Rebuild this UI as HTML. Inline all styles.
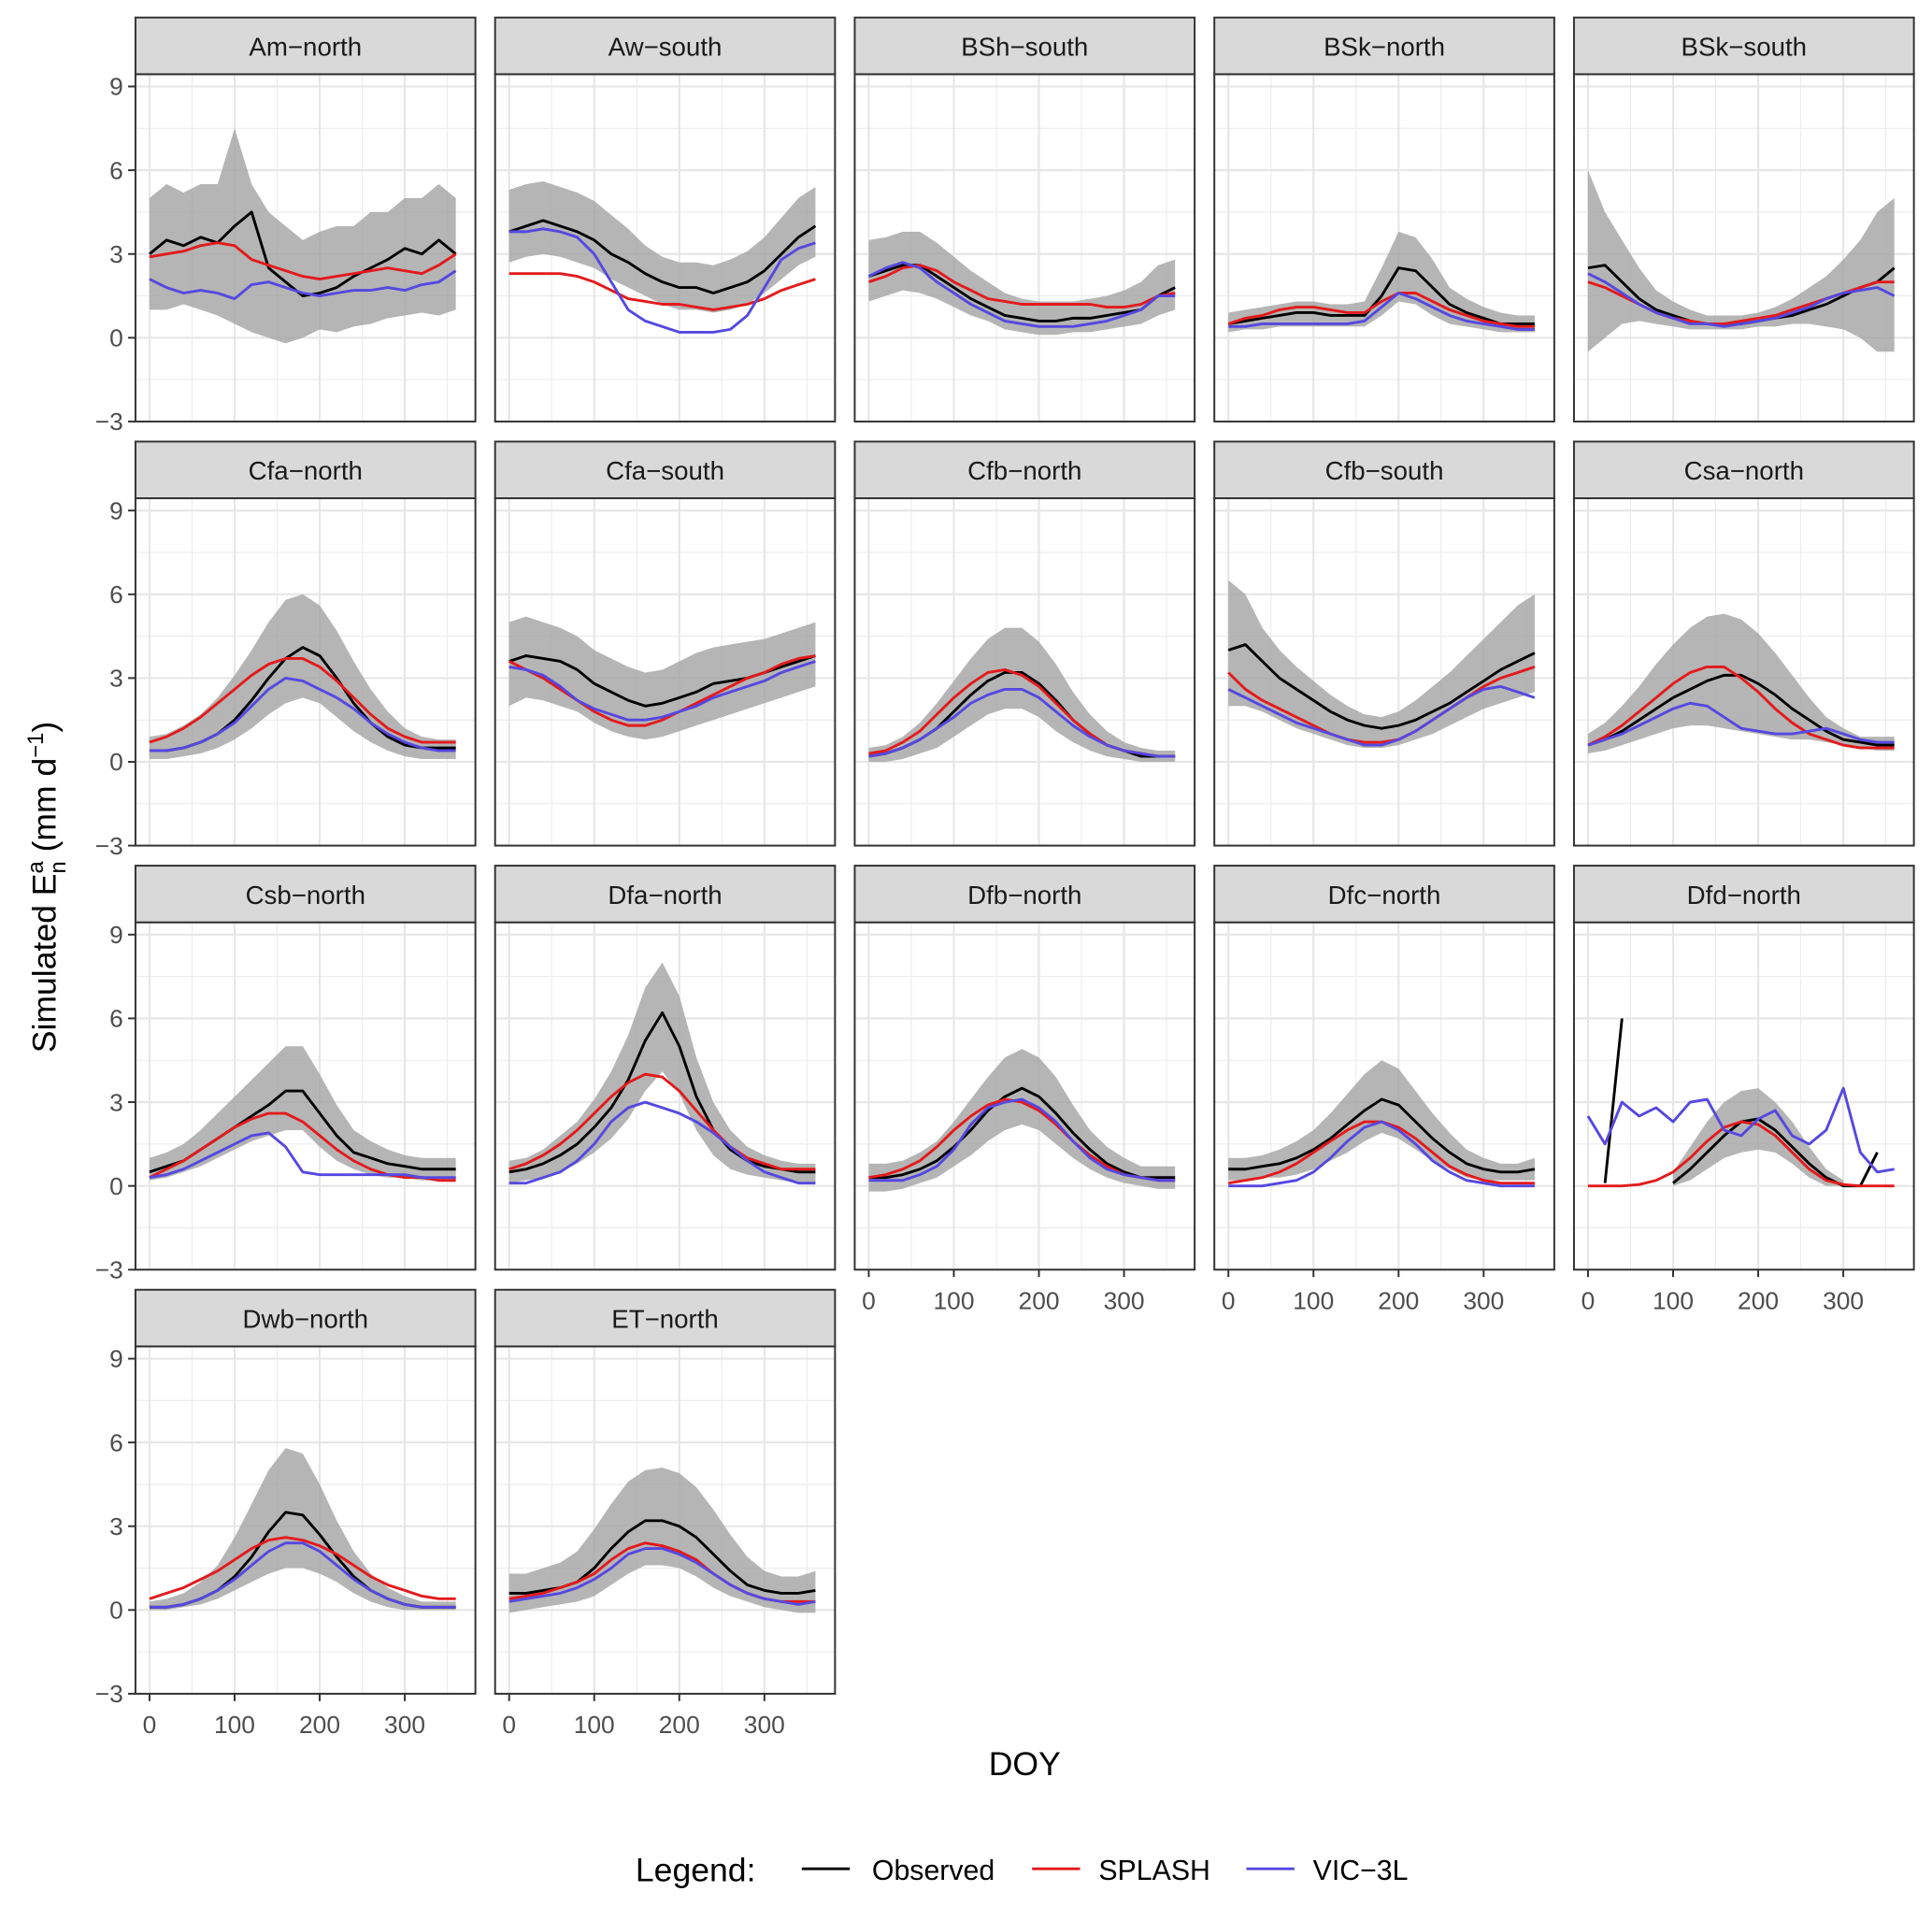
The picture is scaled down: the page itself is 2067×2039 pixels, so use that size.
<!DOCTYPE html>
<html><head><meta charset="utf-8">
<style>
html,body{margin:0;padding:0;background:#fff;}
svg{display:block;font-family:"Liberation Sans",sans-serif;}
</style></head>
<body>
<svg id="chart" width="2067" height="2039" viewBox="0 0 1568.7 1547" xmlns="http://www.w3.org/2000/svg"></svg>
<script>
const panelNames=["Am\u2212north","Aw\u2212south","BSh\u2212south","BSk\u2212north","BSk\u2212south","Cfa\u2212north","Cfa\u2212south","Cfb\u2212north","Cfb\u2212south","Csa\u2212north","Csb\u2212north","Dfa\u2212north","Dfb\u2212north","Dfc\u2212north","Dfd\u2212north","Dwb\u2212north","ET\u2212north"];
const doy=[0,20,40,60,80,100,120,140,160,180,200,220,240,260,280,300,320,340,360];
const xTicks=[0,100,200,300];
const yTicks=[-3,0,3,6,9];
const obsData=[
[3.0,3.5,3.3,3.6,3.4,4.0,4.5,2.5,2.0,1.5,1.6,1.8,2.2,2.5,2.8,3.2,3.0,3.5,3.0],
[3.8,4.0,4.2,4.0,3.8,3.5,3.0,2.7,2.3,2.0,1.8,1.8,1.6,1.8,2.0,2.4,3.0,3.6,4.0],
[2.2,2.4,2.6,2.6,2.2,1.8,1.4,1.1,0.8,0.7,0.6,0.6,0.7,0.7,0.8,0.9,1.0,1.5,1.8],
[0.5,0.6,0.7,0.8,0.9,0.9,0.8,0.8,0.8,1.5,2.5,2.4,1.8,1.2,0.9,0.7,0.5,0.5,0.5],
[2.5,2.6,2.0,1.4,1.0,0.8,0.6,0.5,0.5,0.5,0.6,0.7,0.8,1.0,1.2,1.5,1.8,2.0,2.5],
[0.4,0.4,0.5,0.7,1.0,1.5,2.2,3.0,3.7,4.1,3.8,3.0,2.1,1.4,0.9,0.6,0.5,0.5,0.5],
[3.6,3.8,3.7,3.6,3.3,2.8,2.5,2.2,2.0,2.1,2.3,2.5,2.8,2.9,3.0,3.2,3.4,3.6,3.8],
[0.2,0.3,0.5,0.8,1.2,1.8,2.4,2.9,3.2,3.2,2.8,2.2,1.5,1.0,0.6,0.4,0.2,0.2,0.2],
[4.0,4.2,3.6,3.0,2.6,2.2,1.8,1.5,1.3,1.2,1.3,1.5,1.8,2.1,2.5,2.9,3.3,3.6,3.9],
[0.6,0.8,1.1,1.5,1.9,2.3,2.6,2.9,3.1,3.1,2.8,2.4,1.9,1.5,1.1,0.8,0.7,0.6,0.6],
[0.5,0.7,0.9,1.3,1.7,2.1,2.5,2.9,3.4,3.4,2.6,1.8,1.2,1.0,0.8,0.7,0.6,0.6,0.6],
[0.5,0.6,0.8,1.1,1.5,2.1,2.8,3.8,5.2,6.2,5.0,3.2,2.0,1.3,0.9,0.7,0.6,0.5,0.5],
[0.3,0.3,0.4,0.6,0.9,1.4,2.0,2.7,3.2,3.5,3.2,2.6,1.9,1.3,0.8,0.5,0.3,0.3,0.3],
[0.6,0.6,0.7,0.8,1.0,1.3,1.7,2.2,2.7,3.1,2.9,2.3,1.7,1.2,0.8,0.6,0.5,0.5,0.6],
[null,0.1,6.0,null,null,0.1,0.6,1.2,1.8,2.3,2.4,2.0,1.4,0.8,0.3,0.0,0.0,1.2,null],
[0.1,0.1,0.2,0.4,0.7,1.2,1.9,2.8,3.5,3.4,2.7,1.9,1.2,0.7,0.4,0.2,0.1,0.1,0.1],
[0.6,0.6,0.7,0.8,1.0,1.5,2.2,2.8,3.2,3.2,3.0,2.6,2.0,1.4,0.9,0.7,0.6,0.6,0.7]];
const splData=[
[2.9,3.0,3.1,3.3,3.4,3.3,2.8,2.6,2.4,2.2,2.1,2.2,2.3,2.4,2.5,2.4,2.3,2.6,3.0],
[2.3,2.3,2.3,2.3,2.2,2.0,1.7,1.4,1.3,1.2,1.2,1.1,1.0,1.1,1.2,1.4,1.7,1.9,2.1],
[2.0,2.2,2.5,2.6,2.4,2.0,1.7,1.4,1.3,1.2,1.2,1.2,1.2,1.2,1.1,1.1,1.2,1.5,1.6],
[0.5,0.7,0.8,1.0,1.1,1.1,1.0,0.9,0.9,1.3,1.6,1.6,1.3,1.0,0.8,0.6,0.5,0.4,0.4],
[2.0,1.8,1.5,1.2,0.9,0.7,0.6,0.5,0.5,0.6,0.7,0.8,1.0,1.2,1.4,1.6,1.8,2.0,2.0],
[0.7,0.9,1.2,1.6,2.1,2.6,3.1,3.5,3.7,3.7,3.4,2.9,2.3,1.7,1.2,0.9,0.7,0.7,0.7],
[3.6,3.3,3.0,2.6,2.2,1.8,1.5,1.3,1.3,1.5,1.8,2.1,2.4,2.7,3.0,3.2,3.5,3.7,3.8],
[0.3,0.4,0.7,1.1,1.7,2.3,2.8,3.2,3.3,3.1,2.7,2.1,1.5,1.0,0.6,0.4,0.3,0.2,0.2],
[3.2,2.6,2.2,1.9,1.6,1.3,1.0,0.8,0.7,0.7,0.8,1.1,1.5,1.9,2.3,2.7,3.0,3.2,3.4],
[0.6,0.9,1.3,1.8,2.3,2.8,3.2,3.4,3.4,3.0,2.5,1.9,1.4,1.0,0.8,0.6,0.5,0.5,0.5],
[0.3,0.6,0.9,1.3,1.7,2.1,2.4,2.6,2.6,2.3,1.8,1.3,0.9,0.6,0.4,0.3,0.3,0.2,0.2],
[0.6,0.8,1.1,1.5,2.0,2.6,3.2,3.7,4.0,3.9,3.4,2.7,2.0,1.4,1.0,0.8,0.6,0.6,0.6],
[0.3,0.4,0.6,0.9,1.4,2.0,2.5,2.9,3.1,3.0,2.7,2.2,1.6,1.1,0.7,0.4,0.3,0.2,0.2],
[0.1,0.2,0.3,0.5,0.8,1.2,1.6,2.0,2.3,2.3,2.1,1.7,1.2,0.7,0.4,0.2,0.1,0.1,0.1],
[0,0,0,0.05,0.2,0.5,1.0,1.6,2.1,2.3,2.2,1.8,1.2,0.6,0.2,0.05,0,0,0],
[0.4,0.6,0.8,1.1,1.4,1.8,2.2,2.5,2.6,2.5,2.3,2.0,1.6,1.2,0.9,0.7,0.5,0.4,0.4],
[0.4,0.5,0.6,0.8,1.0,1.3,1.8,2.2,2.4,2.3,2.1,1.8,1.3,0.9,0.6,0.4,0.3,0.3,0.3]];
const vicData=[
[2.1,1.8,1.6,1.7,1.6,1.4,1.9,2.0,1.8,1.6,1.5,1.6,1.7,1.7,1.8,1.7,1.9,2.0,2.4],
[3.8,3.8,3.9,3.8,3.6,3.0,2.0,1.0,0.6,0.4,0.2,0.2,0.2,0.3,0.8,1.8,2.8,3.2,3.4],
[2.2,2.5,2.7,2.5,2.0,1.6,1.2,0.9,0.6,0.5,0.4,0.4,0.4,0.5,0.6,0.8,1.0,1.5,1.5],
[0.4,0.4,0.5,0.5,0.5,0.5,0.5,0.5,0.6,1.1,1.6,1.4,1.1,0.8,0.6,0.5,0.4,0.3,0.3],
[2.3,2.0,1.6,1.2,0.9,0.7,0.5,0.5,0.4,0.5,0.6,0.7,0.9,1.1,1.4,1.6,1.7,1.8,1.5],
[0.4,0.4,0.5,0.7,1.0,1.4,2.0,2.6,3.0,2.9,2.6,2.3,1.9,1.4,1.0,0.7,0.5,0.4,0.4],
[3.4,3.3,3.1,2.7,2.2,1.9,1.7,1.5,1.5,1.6,1.8,2.0,2.3,2.5,2.7,2.9,3.2,3.4,3.6],
[0.2,0.3,0.5,0.8,1.2,1.6,2.1,2.4,2.6,2.6,2.3,1.8,1.3,0.9,0.6,0.4,0.3,0.2,0.2],
[2.6,2.3,2.0,1.7,1.4,1.2,1.0,0.8,0.6,0.6,0.8,1.1,1.5,1.9,2.3,2.6,2.7,2.5,2.3],
[0.6,0.8,1.0,1.3,1.6,1.9,2.1,2.0,1.6,1.2,1.1,1.0,1.0,1.1,1.2,1.0,0.8,0.7,0.7],
[0.3,0.4,0.6,0.9,1.2,1.5,1.8,1.9,1.4,0.5,0.4,0.4,0.4,0.4,0.4,0.4,0.3,0.3,0.3],
[0.1,0.1,0.3,0.5,0.9,1.5,2.3,2.8,3.0,2.8,2.6,2.3,1.9,1.4,0.9,0.5,0.3,0.1,0.1],
[0.2,0.2,0.2,0.4,0.7,1.3,2.2,2.8,3.0,3.1,2.8,2.3,1.6,1.0,0.6,0.4,0.3,0.2,0.2],
[0.0,0.0,0.0,0.1,0.2,0.5,1.0,1.6,2.1,2.3,2.0,1.5,0.9,0.5,0.2,0.1,0.0,0.0,0.0],
[2.5,1.5,3.0,2.5,2.8,2.3,3.0,3.1,2.0,1.8,2.4,2.7,1.8,1.5,2.0,3.5,1.2,0.5,0.6],
[0.1,0.1,0.2,0.4,0.7,1.1,1.6,2.1,2.4,2.4,2.1,1.6,1.1,0.7,0.4,0.2,0.1,0.1,0.1],
[0.3,0.4,0.5,0.6,0.8,1.1,1.5,2.0,2.2,2.2,2.0,1.7,1.3,0.9,0.6,0.4,0.3,0.2,0.3]];
const loData=[
[1.0,1.0,1.2,1.0,0.8,0.5,0.2,0.0,-0.2,0.0,0.3,0.2,0.4,0.5,0.7,0.8,0.9,0.8,1.0],
[2.7,2.9,3.0,2.9,2.7,2.5,2.1,1.8,1.5,1.2,1.0,1.0,0.9,1.0,1.2,1.6,2.1,2.6,2.9],
[1.3,1.5,1.7,1.6,1.4,1.1,0.8,0.6,0.3,0.2,0.1,0.1,0.2,0.2,0.3,0.4,0.5,0.8,1.0],
[0.2,0.3,0.3,0.4,0.4,0.4,0.4,0.4,0.4,0.8,1.3,1.2,0.8,0.5,0.4,0.3,0.2,0.2,0.2],
[-0.5,0.0,0.5,0.6,0.5,0.4,0.3,0.3,0.3,0.3,0.4,0.4,0.5,0.5,0.4,0.3,0.0,-0.5,-0.5],
[0.1,0.1,0.2,0.3,0.5,0.8,1.2,1.7,2.1,2.3,2.1,1.6,1.1,0.7,0.4,0.2,0.1,0.1,0.1],
[2.0,2.3,2.2,2.0,1.8,1.4,1.1,0.9,0.8,0.9,1.1,1.3,1.5,1.7,1.9,2.1,2.3,2.5,2.7],
[0.0,0.0,0.1,0.3,0.5,0.9,1.3,1.7,1.9,1.9,1.6,1.1,0.7,0.4,0.2,0.1,0.0,0.0,0.0],
[2.0,2.0,1.8,1.5,1.2,1.0,0.8,0.6,0.5,0.5,0.6,0.8,1.0,1.3,1.6,1.9,2.1,2.3,2.5],
[0.3,0.4,0.6,0.8,1.0,1.2,1.3,1.3,1.2,1.1,1.0,0.9,0.8,0.8,0.7,0.6,0.5,0.4,0.4],
[0.2,0.3,0.5,0.7,1.0,1.3,1.6,1.8,2.0,2.0,1.4,0.9,0.6,0.4,0.3,0.3,0.2,0.2,0.2],
[0.1,0.2,0.3,0.5,0.8,1.2,1.7,2.4,3.4,4.1,3.3,2.0,1.1,0.6,0.4,0.3,0.2,0.1,0.1],
[-0.2,-0.2,-0.1,0.1,0.3,0.7,1.1,1.6,2.0,2.2,2.0,1.5,1.0,0.6,0.3,0.1,0.0,-0.1,-0.1],
[0.2,0.2,0.3,0.3,0.4,0.6,0.9,1.2,1.6,1.9,1.7,1.3,0.9,0.6,0.3,0.2,0.2,0.2,0.2],
[null,null,null,null,null,0.0,0.2,0.6,1.0,1.2,1.3,1.2,0.8,0.3,0.0,0.0,null,null,null],
[0.0,0.0,0.1,0.2,0.4,0.7,1.0,1.3,1.5,1.5,1.3,1.0,0.6,0.3,0.1,0.0,0.0,0.0,0.0],
[-0.1,0.0,0.1,0.2,0.3,0.5,0.9,1.3,1.6,1.6,1.5,1.2,0.8,0.5,0.3,0.1,0.0,-0.1,-0.1]];
const hiData=[
[5.0,5.5,5.2,5.5,5.5,7.5,5.5,4.5,4.0,3.5,3.8,4.0,4.0,4.5,4.5,5.0,5.0,5.5,5.0],
[5.3,5.5,5.6,5.4,5.2,4.9,4.4,3.9,3.3,2.9,2.7,2.7,2.6,2.8,3.1,3.6,4.3,5.0,5.4],
[3.5,3.6,3.8,3.8,3.4,2.9,2.4,2.0,1.6,1.4,1.3,1.3,1.3,1.4,1.5,1.7,2.0,2.6,2.8],
[0.9,1.0,1.1,1.2,1.3,1.3,1.2,1.2,1.3,2.5,3.8,3.6,2.8,1.8,1.4,1.1,0.9,0.8,0.8],
[6.0,4.5,3.5,2.5,1.7,1.3,1.0,0.8,0.8,0.8,0.9,1.1,1.4,1.8,2.2,2.8,3.5,4.5,5.0],
[0.9,1.0,1.3,1.7,2.3,3.1,4.0,5.0,5.8,6.0,5.6,4.7,3.6,2.6,1.8,1.2,0.9,0.8,0.8],
[5.0,5.2,5.0,4.8,4.5,4.0,3.7,3.4,3.2,3.3,3.6,3.9,4.1,4.2,4.3,4.4,4.6,4.8,5.0],
[0.5,0.6,0.9,1.4,2.1,2.9,3.7,4.4,4.8,4.8,4.3,3.5,2.5,1.7,1.1,0.7,0.5,0.4,0.4],
[6.5,6.0,4.8,4.0,3.4,2.9,2.4,2.0,1.7,1.6,1.8,2.2,2.7,3.2,3.8,4.4,5.0,5.6,6.0],
[1.0,1.4,2.0,2.7,3.5,4.2,4.8,5.2,5.3,5.1,4.6,3.9,3.1,2.3,1.6,1.2,0.9,0.9,0.9],
[1.0,1.2,1.5,2.0,2.6,3.2,3.8,4.4,5.0,5.0,4.0,2.9,2.0,1.6,1.3,1.1,1.0,1.0,1.0],
[0.9,1.0,1.3,1.8,2.3,3.1,4.1,5.4,7.1,8.0,6.8,4.6,3.0,2.0,1.4,1.1,0.9,0.8,0.8],
[0.8,0.8,0.9,1.2,1.6,2.3,3.1,3.9,4.6,4.9,4.6,3.9,2.9,2.0,1.4,1.0,0.7,0.7,0.7],
[1.0,1.0,1.1,1.3,1.6,2.0,2.6,3.3,4.0,4.5,4.2,3.4,2.6,1.9,1.3,1.0,0.8,0.8,1.0],
[null,null,null,null,null,0.5,1.4,2.3,3.0,3.4,3.5,3.0,2.3,1.4,0.6,0.2,null,null,null],
[0.3,0.4,0.6,1.0,1.6,2.6,3.8,5.0,5.8,5.6,4.5,3.2,2.1,1.3,0.8,0.5,0.3,0.3,0.3],
[1.3,1.3,1.5,1.7,2.1,2.9,3.8,4.6,5.0,5.1,4.9,4.4,3.6,2.7,1.9,1.4,1.2,1.2,1.4]];

const NS="http://www.w3.org/2000/svg";
const svg=document.getElementById('chart');
function mk(tag,attrs,parent){const e=document.createElementNS(NS,tag);for(const k in attrs)e.setAttribute(k,attrs[k]);(parent||svg).appendChild(e);return e;}
const PW=276, STRIP=46, PH=282, X_DOMAIN=[-16.5,383], Y_DOMAIN=[-3,9.44];
const axisBottomPanels=[12,13,14,15,16];
function lineD(xs,ys,xf,yf){let d='',pen=false;for(let i=0;i<xs.length;i++){if(ys[i]===null){pen=false;continue;}d+=(pen?'L':'M')+xf(xs[i]).toFixed(1)+','+yf(ys[i]).toFixed(1);pen=true;}return d;}
panelNames.forEach((name,p)=>{
  const col=p%5,row=Math.floor(p/5);
  const left=110+col*292, top=14+row*344.3, pTop=top+STRIP, pBot=pTop+PH;
  const xf=v=>left+(v-X_DOMAIN[0])/(X_DOMAIN[1]-X_DOMAIN[0])*PW;
  const yf=v=>pBot-(v-Y_DOMAIN[0])/(Y_DOMAIN[1]-Y_DOMAIN[0])*PH;
  const g=mk('g',{});
  
  
  mk('rect',{x:left,y:pTop,width:PW,height:PH,fill:'#fff'},g);
  [-1.5,1.5,4.5,7.5].forEach(v=>mk('line',{x1:left,x2:left+PW,y1:yf(v),y2:yf(v),stroke:'#ebebeb','stroke-width':0.8},g));
  [50,150,250,350].forEach(v=>mk('line',{x1:xf(v),x2:xf(v),y1:pTop,y2:pBot,stroke:'#ebebeb','stroke-width':0.8},g));
  yTicks.forEach(v=>mk('line',{x1:left,x2:left+PW,y1:yf(v),y2:yf(v),stroke:'#e6e6e6','stroke-width':1.6},g));
  xTicks.forEach(v=>mk('line',{x1:xf(v),x2:xf(v),y1:pTop,y2:pBot,stroke:'#e6e6e6','stroke-width':1.6},g));
  const lo=loData[p],hi=hiData[p];
  let top_='',bot='';const idx=[];
  for(let i=0;i<doy.length;i++) if(lo[i]!==null&&hi[i]!==null) idx.push(i);
  idx.forEach((i,k)=>{top_+=(k?'L':'M')+xf(doy[i]).toFixed(1)+','+yf(hi[i]).toFixed(1);});
  idx.slice().reverse().forEach(i=>{bot+='L'+xf(doy[i]).toFixed(1)+','+yf(lo[i]).toFixed(1);});
  const rib=mk('path',{d:top_+bot+'Z',fill:'#a3a3a3',opacity:0.8},g);
  
  
  const so=mk('path',{d:lineD(doy,obsData[p],xf,yf),fill:'none',stroke:'#000','stroke-width':2.2,'stroke-linejoin':'round'},g);
  
  
  const ss=mk('path',{d:lineD(doy,splData[p],xf,yf),fill:'none',stroke:'#e31a1c','stroke-width':2.2,'stroke-linejoin':'round'},g);
  
  
  const sv=mk('path',{d:lineD(doy,vicData[p],xf,yf),fill:'none',stroke:'#5548e0','stroke-width':2.2,'stroke-linejoin':'round'},g);
  
  
  mk('rect',{x:left,y:pTop,width:PW,height:PH,fill:'none',stroke:'#333','stroke-width':1.5},g);
  const st=mk('rect',{x:left,y:top,width:PW,height:STRIP,fill:'#d9d9d9',stroke:'#333','stroke-width':1.5},g);
  
  
  const tt=mk('text',{x:left+PW/2,y:top+31,'text-anchor':'middle','font-size':21,fill:'#1a1a1a'},g);
  tt.textContent=name;
  
  
  if(col===0){
    yTicks.forEach(v=>{
      mk('line',{x1:left-6,x2:left,y1:yf(v),y2:yf(v),stroke:'#333','stroke-width':1.5},g);
      const t=mk('text',{x:left-10,y:yf(v)+7,'text-anchor':'end','font-size':20,fill:'#4d4d4d'},g);
      t.textContent=v<0?'\u2212'+Math.abs(v):String(v);
      
      
    });
  }
  if(axisBottomPanels.includes(p)){
    xTicks.forEach(v=>{
      mk('line',{x1:xf(v),x2:xf(v),y1:pBot,y2:pBot+6,stroke:'#333','stroke-width':1.5},g);
      const t=mk('text',{x:xf(v),y:pBot+32,'text-anchor':'middle','font-size':20,fill:'#4d4d4d'},g);
      t.textContent=String(v);
      
      
    });
  }
});
</script>
<svg style="position:absolute;left:0;top:0" width="2067" height="2039" viewBox="0 0 1568.7 1547" xmlns="http://www.w3.org/2000/svg" font-family="Liberation Sans, sans-serif">
  <text transform="translate(45,720) rotate(-90)" text-anchor="middle" font-size="27" fill="#000">Simulated E<tspan font-size="18" dy="-10">a</tspan><tspan font-size="18" dx="-10" dy="18">n</tspan><tspan dy="-8" font-size="27"> (mm d</tspan><tspan font-size="18" dy="-10">−1</tspan><tspan font-size="27" dy="10">)</tspan></text>
  <text x="832" y="1441" text-anchor="middle" font-size="27" fill="#000">DOY</text>
  <g>
    <text x="516" y="1527" font-size="27" fill="#000">Legend:</text>
    <line x1="651" x2="690" y1="1517" y2="1517" stroke="#000" stroke-width="2.2"/>
    <text x="708" y="1526" font-size="23" fill="#000">Observed</text>
    <line x1="838" x2="877" y1="1517" y2="1517" stroke="#e31a1c" stroke-width="2.2"/>
    <text x="892" y="1526" font-size="23" fill="#000">SPLASH</text>
    <line x1="1012" x2="1051" y1="1517" y2="1517" stroke="#5548e0" stroke-width="2.2"/>
    <text x="1066" y="1526" font-size="23" fill="#000">VIC−3L</text>
  </g>
</svg>
</body></html>
